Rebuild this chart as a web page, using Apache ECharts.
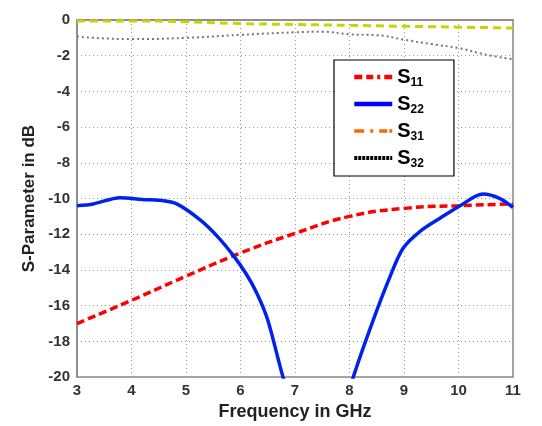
<!DOCTYPE html>
<html>
<head>
<meta charset="utf-8">
<script src="https://cdn.jsdelivr.net/npm/echarts@6/dist/echarts.min.js"></script>
<style>
  html, body { margin: 0; padding: 0; background: #fff; }
  #main { width: 542px; height: 426px; }
</style>
</head>
<body>
<div id="main"></div>
<script>
// S11 - reflection at port 1
const s11Freq = [3, 4, 5, 6, 7, 8, 9, 10, 11];
const s11Val = [-17, -15.7, -14.35, -13.05, -11.95, -11.0, -10.55, -10.4, -10.3];

// S22 - reflection at port 2 (dips below -20 between 6.8 and 8 GHz)
const s22Freq = [3, 3.3, 3.79, 4.2, 4.52, 4.83, 5.26, 5.6, 5.87, 6.1, 6.3, 6.5, 6.78, 7.0, 7.4, 7.8, 8.07, 8.43, 8.74, 8.98, 9.29, 9.66, 10.03, 10.45, 10.76, 11];
const s22Val = [-10.4, -10.3, -9.95, -10.05, -10.1, -10.3, -11.2, -12.2, -13.2, -14.2, -15.3, -16.8, -20, -22, -26, -23, -20, -16.85, -14.4, -12.8, -11.85, -11.1, -10.4, -9.75, -10.0, -10.5];

// S31 - transmission 1->3
const s31Freq = [3, 4, 5, 6, 7, 8, 9, 10, 11];
const s31Val = [-0.05, -0.05, -0.1, -0.2, -0.25, -0.3, -0.35, -0.4, -0.45];

// S32 - transmission 2->3
const s32Freq = [3, 4, 5, 6, 7, 7.5, 8, 8.5, 9, 9.5, 10, 10.5, 11];
const s32Val = [-0.93, -1.07, -1.0, -0.83, -0.69, -0.66, -0.8, -0.85, -1.1, -1.35, -1.57, -1.94, -2.2];

const pair = (xs, ys) => xs.map((x, i) => [x, ys[i]]);

const chart = echarts.init(document.getElementById('main'));
const boldFont = 'Liberation Sans';
const noDot = { opacity: 0 };

chart.setOption({
  animation: false,
  backgroundColor: '#fff',
  grid: { left: 77, right: 29, top: 20, bottom: 46, show: true, borderColor: '#888', borderWidth: 1.5 },
  legend: {
    orient: 'vertical',
    left: 334, top: 60,
    padding: [7, 30, 6, 18],
    backgroundColor: '#fff',
    borderColor: '#000',
    borderWidth: 1.2,
    itemWidth: 38,
    itemHeight: 10,
    itemGap: 5,
    formatter: (name) => '{s|S}{sub|' + name.slice(1) + '}',
    textStyle: {
      rich: {
        s: { fontFamily: boldFont, fontWeight: 'bold', fontSize: 20, color: '#000' },
        sub: { fontFamily: boldFont, fontWeight: 'bold', fontSize: 12, color: '#000', verticalAlign: 'bottom', padding: [12, 0, 0, 0] }
      }
    },
    data: [
      { name: 'S11', itemStyle: noDot, lineStyle: { color: '#ff0000', width: 4.5, type: [8, 4, 7, 4, 3, 4] } },
      { name: 'S22', itemStyle: noDot, lineStyle: { color: '#0000ff', width: 4.5 } },
      { name: 'S31', itemStyle: noDot, lineStyle: { color: '#ff6600', width: 3.5, type: [10, 6, 3, 6, 8, 2] } },
      { name: 'S32', itemStyle: noDot, lineStyle: { color: '#000', width: 4, type: [3, 1] } }
    ]
  },
  xAxis: {
    type: 'value', min: 3, max: 11, interval: 1,
    name: 'Frequency in GHz', nameLocation: 'middle', nameGap: 24,
    nameTextStyle: { fontFamily: boldFont, fontWeight: 'bold', fontSize: 18, color: '#222' },
    axisLine: { lineStyle: { color: '#888', width: 1.5 } },
    axisTick: { show: false },
    axisLabel: { fontFamily: boldFont, fontWeight: 'bold', fontSize: 15, color: '#333', margin: 6 },
    splitLine: { lineStyle: { color: '#999', type: [1, 3] } }
  },
  yAxis: {
    type: 'value', min: -20, max: 0, interval: 2,
    name: 'S-Parameter in dB', nameLocation: 'middle', nameGap: 36,
    nameTextStyle: { fontFamily: boldFont, fontWeight: 'bold', fontSize: 17, color: '#222' },
    axisLine: { lineStyle: { color: '#888', width: 1.5 } },
    axisTick: { show: false },
    axisLabel: { fontFamily: boldFont, fontWeight: 'bold', fontSize: 15, color: '#333', margin: 7 },
    splitLine: { lineStyle: { color: '#999', type: [1, 3] } }
  },
  series: [
    {
      name: 'S11', type: 'line', smooth: true, symbol: 'none', clip: true,
      data: pair(s11Freq, s11Val),
      itemStyle: { color: '#ff0000' },
      lineStyle: { color: '#ff0000', width: 3.5, type: [8, 4] }
    },
    {
      name: 'S22', type: 'line', smooth: 0.3, symbol: 'none', clip: true,
      data: pair(s22Freq, s22Val),
      itemStyle: { color: '#0000ff' },
      lineStyle: { color: '#0022ee', width: 3.5 }
    },
    {
      name: 'S31', type: 'line', smooth: true, symbol: 'none', clip: true,
      data: pair(s31Freq, s31Val),
      itemStyle: { color: '#ff6600' },
      lineStyle: { color: '#c8d400', width: 3, type: [8, 5] }
    },
    {
      name: 'S32', type: 'line', smooth: true, symbol: 'none', clip: true,
      data: pair(s32Freq, s32Val),
      itemStyle: { color: '#333' },
      lineStyle: { color: '#777', width: 2, type: [2, 3] }
    }
  ]
});
</script>
</body>
</html>
